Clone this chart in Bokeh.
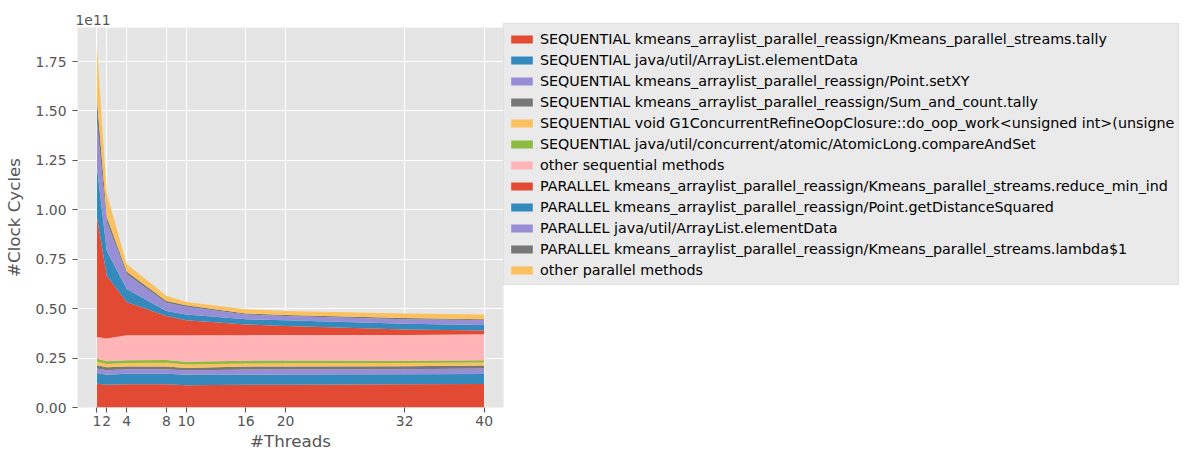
from bokeh.plotting import figure
from bokeh.models import FixedTicker, PrintfTickFormatter, Legend, Range1d, ColumnDataSource
from bokeh.embed import file_html
from bokeh.resources import INLINE

# Threads (x) and clock cycles in units of 1e11 (y)
threads = [1, 2, 4, 8, 10, 16, 20, 32, 40]

seq_tally      = [0.120, 0.115, 0.118, 0.118, 0.112, 0.115, 0.115, 0.117, 0.119]
seq_elemdata   = [0.055, 0.051, 0.053, 0.053, 0.054, 0.051, 0.052, 0.051, 0.051]
seq_setxy      = [0.022, 0.022, 0.022, 0.022, 0.021, 0.026, 0.026, 0.026, 0.027]
seq_sumcount   = [0.017, 0.015, 0.015, 0.015, 0.013, 0.015, 0.015, 0.015, 0.015]
seq_g1         = [0.017, 0.017, 0.017, 0.018, 0.018, 0.015, 0.016, 0.016, 0.015]
seq_atomic     = [0.015, 0.014, 0.014, 0.014, 0.013, 0.015, 0.014, 0.012, 0.012]
seq_other      = [0.110, 0.115, 0.127, 0.126, 0.134, 0.129, 0.129, 0.130, 0.131]
par_reduce     = [0.607, 0.317, 0.168, 0.097, 0.076, 0.054, 0.045, 0.028, 0.020]
par_getdist    = [0.254, 0.127, 0.065, 0.025, 0.030, 0.026, 0.029, 0.029, 0.027]
par_elemdata   = [0.233, 0.144, 0.076, 0.042, 0.038, 0.025, 0.022, 0.022, 0.025]
par_lambda     = [0.110, 0.026, 0.013, 0.009, 0.008, 0.005, 0.005, 0.007, 0.004]
par_other      = [0.270, 0.119, 0.038, 0.026, 0.017, 0.021, 0.020, 0.022, 0.025]

labels = [
    "SEQUENTIAL kmeans_arraylist_parallel_reassign/Kmeans_parallel_streams.tally",
    "SEQUENTIAL java/util/ArrayList.elementData",
    "SEQUENTIAL kmeans_arraylist_parallel_reassign/Point.setXY",
    "SEQUENTIAL kmeans_arraylist_parallel_reassign/Sum_and_count.tally",
    "SEQUENTIAL void G1ConcurrentRefineOopClosure::do_oop_work<unsigned int>(unsigne",
    "SEQUENTIAL java/util/concurrent/atomic/AtomicLong.compareAndSet",
    "other sequential methods",
    "PARALLEL kmeans_arraylist_parallel_reassign/Kmeans_parallel_streams.reduce_min_ind",
    "PARALLEL kmeans_arraylist_parallel_reassign/Point.getDistanceSquared",
    "PARALLEL java/util/ArrayList.elementData",
    "PARALLEL kmeans_arraylist_parallel_reassign/Kmeans_parallel_streams.lambda$1",
    "other parallel methods",
]
series = [seq_tally, seq_elemdata, seq_setxy, seq_sumcount, seq_g1, seq_atomic, seq_other,
          par_reduce, par_getdist, par_elemdata, par_lambda, par_other]
colors = ["#E24A33", "#348ABD", "#988ED5", "#777777", "#FBC15E", "#8EBA42", "#FFB5B8",
          "#E24A33", "#348ABD", "#988ED5", "#777777", "#FBC15E"]

y_ticks = [0.0, 0.25, 0.5, 0.75, 1.0, 1.25, 1.5, 1.75]

keys = [f"s{i}" for i in range(len(series))]
data = {"x": threads}
for k, s in zip(keys, series):
    data[k] = s
source = ColumnDataSource(data)

FONT = "DejaVu Sans"
GRAY = "#555555"

p = figure(width=1184, height=455, output_backend="svg", toolbar_location=None,
           x_range=Range1d(-0.95, 41.95), y_range=Range1d(0, 1.922),
           frame_width=426, frame_height=380,
           min_border_left=76, min_border_right=0, min_border_top=27, min_border_bottom=48)
p.background_fill_color = "#E5E5E5"
p.border_fill_color = "white"
p.outline_line_color = None

renderers = p.varea_stack(keys, x="x", color=colors, source=source)

p.title.text = "1e11"
p.title.text_font = FONT
p.title.text_font_size = "13.9px"
p.title.text_font_style = "normal"
p.title.text_color = GRAY
p.title.align = "left"
p.title.offset = -2
p.title.standoff = 5

for ax in (p.xaxis[0], p.yaxis[0]):
    ax.axis_line_color = None
    ax.major_tick_line_color = GRAY
    ax.major_tick_line_width = 1.1
    ax.major_tick_out = 5
    ax.major_tick_in = 0
    ax.minor_tick_line_color = None
    ax.major_label_text_font = FONT
    ax.major_label_text_font_size = "13.9px"
    ax.major_label_text_color = GRAY
    ax.axis_label_text_font = FONT
    ax.axis_label_text_font_size = "16.7px"
    ax.axis_label_text_font_style = "normal"
    ax.axis_label_text_color = GRAY

p.xaxis.ticker = FixedTicker(ticks=threads)
p.xaxis.axis_label = "#Threads"
p.xaxis.major_label_standoff = 3
p.xaxis.axis_label_standoff = 2
p.yaxis.ticker = FixedTicker(ticks=y_ticks)
p.yaxis.formatter = PrintfTickFormatter(format="%.2f")
p.yaxis.axis_label = "#Clock Cycles"
p.yaxis.major_label_standoff = 6
p.yaxis.axis_label_standoff = 9

p.grid.grid_line_color = "white"
p.grid.grid_line_width = 1.1

legend = Legend(items=[(lab, [r]) for lab, r in zip(labels, renderers)],
                location=(0, 122))
legend.label_text_font = FONT
legend.label_text_font_size = "14.3px"
legend.label_text_color = "#000000"
legend.label_height = 21
legend.glyph_height = 10
legend.glyph_width = 27
legend.label_standoff = 5
legend.spacing = 0
legend.padding = 4
legend.margin = 5
legend.background_fill_color = "#EAEAEA"
legend.background_fill_alpha = 1.0
legend.border_line_color = "#D6D6D6"
legend.border_line_width = 1
p.add_layout(legend, "right")

open("out.html", "w").write(file_html(p, INLINE))
